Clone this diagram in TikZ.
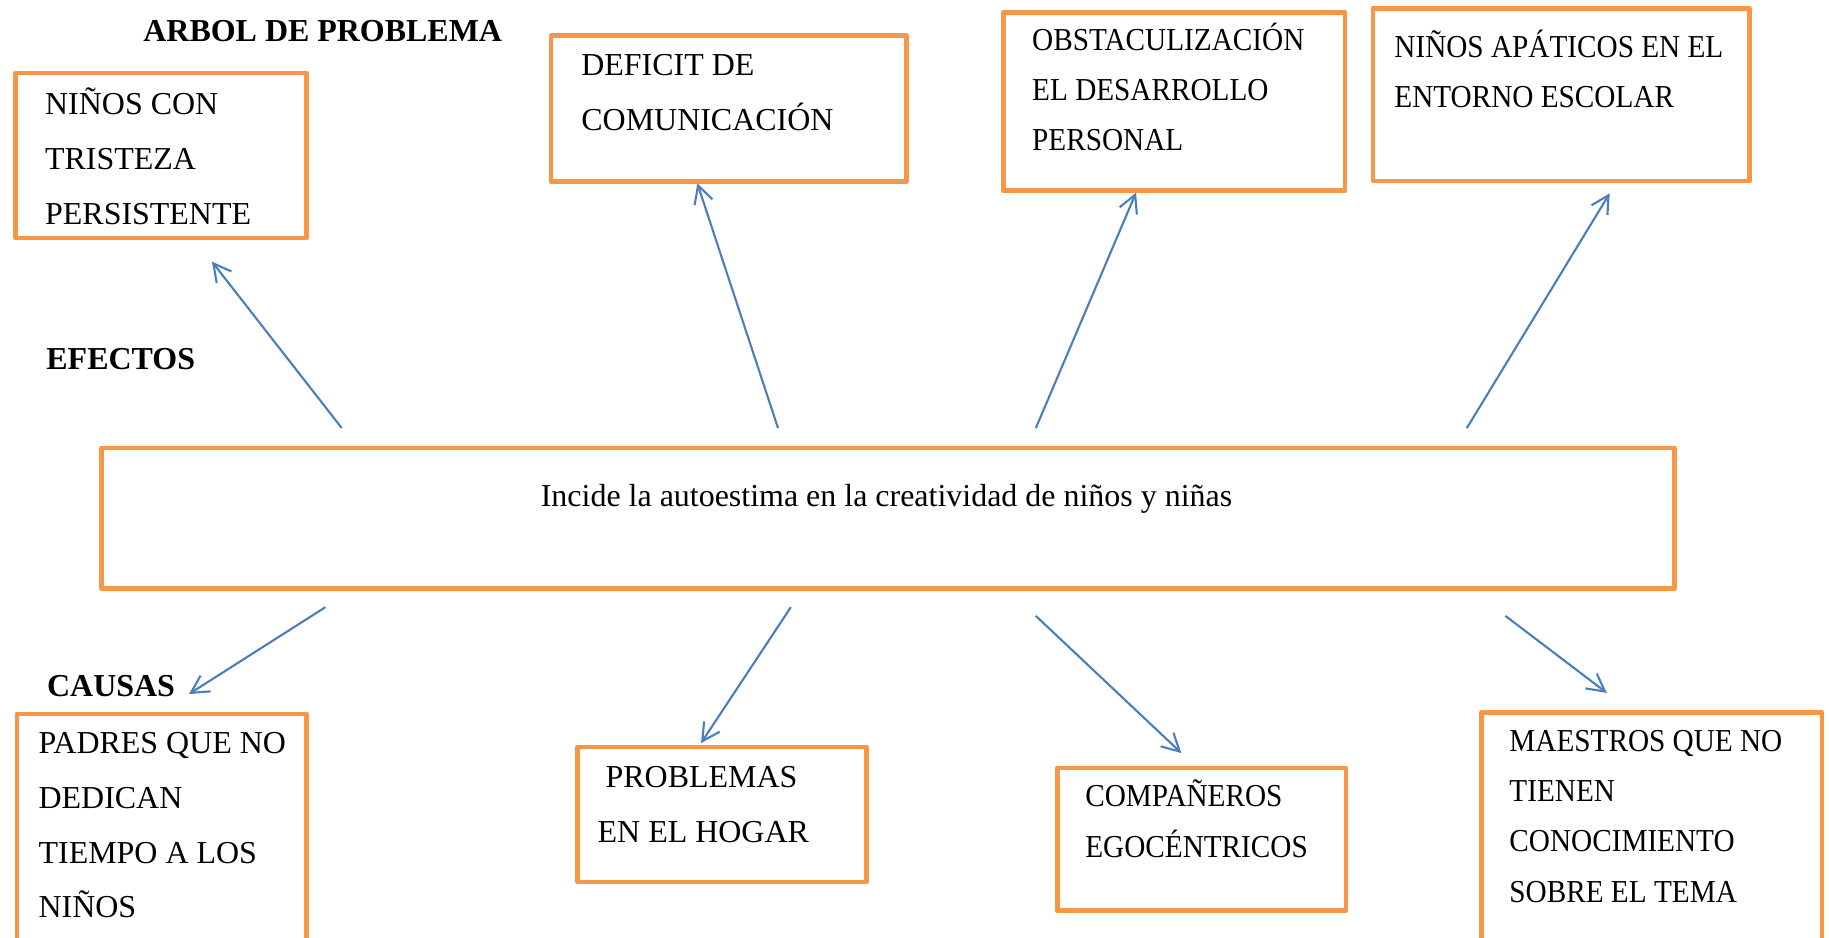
\documentclass[tikz,border=0pt]{standalone}
\usepackage{fontspec}
\setmainfont{Liberation Serif}
\newfontfamily\narrowserif[FakeStretch=0.915]{Liberation Serif}
\usetikzlibrary{arrows.meta}
\definecolor{boxorange}{HTML}{F79646}
\definecolor{arrowblue}{HTML}{4A7EBB}
\begin{document}
\begin{tikzpicture}[x=0.5pt,y=-0.5pt,
  box/.style={draw=boxorange, line width=2pt, line join=round, rectangle, inner sep=0pt, outer sep=0pt, anchor=north west},
  boxtext/.style={anchor=north west, inner sep=0pt, align=left, font=\fontsize{13.7}{#1}\selectfont},
  narrowtext/.style={anchor=north west, inner sep=0pt, align=left, font=\narrowserif\fontsize{13.7}{#1}\selectfont},
  titletext/.style={anchor=base west, inner sep=0pt, font=\fontsize{13.7}{16}\selectfont\bfseries},
  conn/.style={draw=arrowblue, line width=0.9pt, -{Straight Barb[length=7.5pt,width=8pt]}}]
\clip (0,0) rectangle (1568,804);

% titles
\node[titletext] (arbol) at (122.5,35.7) {ARBOL DE PROBLEMA};
\node[titletext] (efectos) at (39.4,316.5) {EFECTOS};
\node[titletext] (causas) at (40,596.7) {CAUSAS};

% effect boxes
\node[box, minimum width=124.75pt, minimum height=70.75pt] (b1) at (13.5,62.5) {};
\node[boxtext=23.6] (t1) at (38.3,64.7) {\strut NIÑOS CON\\TRISTEZA\\PERSISTENTE};

\node[box, minimum width=152.25pt, minimum height=62.6pt] (b2) at (472.5,30.5) {};
\node[boxtext=23.7] (t2) at (498,30.8) {\strut DEFICIT DE\\COMUNICACIÓN};

\node[box, minimum width=146.25pt, minimum height=76.5pt] (b3) at (860.5,10.5) {};
\node[narrowtext=21.5] (t3) at (884.5,12.9) {\strut OBSTACULIZACIÓN\\EL DESARROLLO\\PERSONAL};

\node[box, minimum width=161.5pt, minimum height=74.1pt] (b4) at (1177,7) {};
\node[narrowtext=21.7] (t4) at (1195,18.2) {\strut NIÑOS APÁTICOS EN EL\\ENTORNO ESCOLAR};

% central problem
\node[box, minimum width=674.25pt, minimum height=60.25pt] (c) at (87,384) {};
\node[anchor=base, inner sep=0pt, font=\fontsize{13.7}{16}\selectfont] (ct) at (760,433.8) {Incide la autoestima en la creatividad de niños y niñas};

% cause boxes
\node[box, minimum width=124.25pt, minimum height=109pt] (b5) at (14.5,612) {};
\node[boxtext=23.45] (t5) at (32.7,612.9) {\strut PADRES QUE NO\\DEDICAN\\TIEMPO A LOS\\NIÑOS};

\node[box, minimum width=123.85pt, minimum height=57.75pt] (b6) at (495,640.5) {};
\node[boxtext=23.55] (t6) at (512,641.4) {\strut\hspace{3.4pt}PROBLEMAS\\EN EL HOGAR};

\node[box, minimum width=123.85pt, minimum height=61.05pt] (b7) at (906.3,658.5) {};
\node[narrowtext=21.7] (t7) at (930,660.6) {\strut COMPAÑEROS\\EGOCÉNTRICOS};

\node[box, minimum width=146pt, minimum height=109.5pt] (b8) at (1270,611) {};
\node[narrowtext=21.6] (t8) at (1293.6,613.3) {\strut MAESTROS QUE NO\\TIENEN\\CONOCIMIENTO\\SOBRE EL TEMA};

% connector ends
\coordinate (s1) at (293,367);   \coordinate (e1) at (181.7,224.3);
\coordinate (s2) at (667,367);   \coordinate (e2) at (597.8,157.2);
\coordinate (s3) at (888,367);   \coordinate (e3) at (973.9,165.2);
\coordinate (s4) at (1257.5,367);\coordinate (e4) at (1380,165.7);
\coordinate (s5) at (279,520.5); \coordinate (e5) at (162,595);
\coordinate (s6) at (678,520.5); \coordinate (e6) at (601,637);
\coordinate (s7) at (888,528);   \coordinate (e7) at (1012.8,645.6);
\coordinate (s8) at (1290.6,528);\coordinate (e8) at (1377.5,594);

\foreach \i in {1,...,8} {\draw[conn] (s\i) -- (e\i);}
\end{tikzpicture}
\end{document}
